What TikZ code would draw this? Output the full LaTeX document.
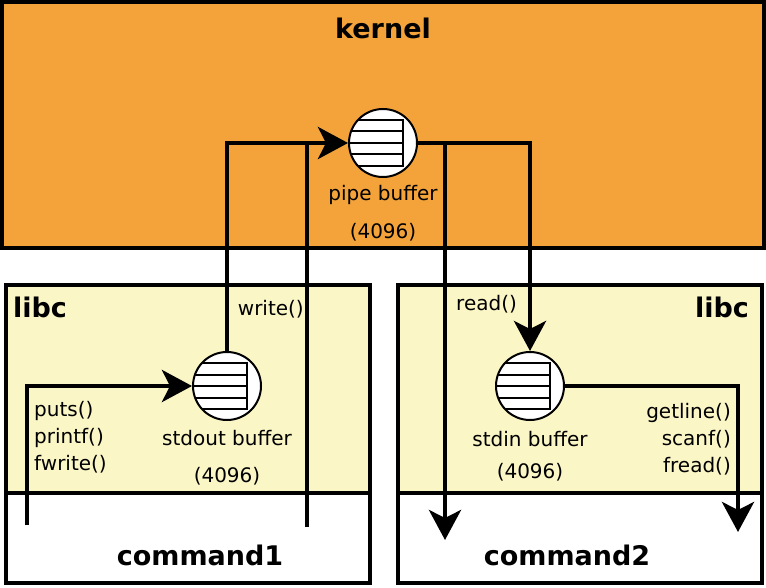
\documentclass[tikz,border=0pt]{standalone}
\usepackage{fontspec}
\setmainfont{DejaVu Sans}
\usetikzlibrary{arrows.meta, positioning}

\definecolor{kernelorange}{RGB}{243,163,58}
\definecolor{libcyellow}{RGB}{251,246,198}

\begin{document}
\begin{tikzpicture} [x=1pt, y=-1pt,
        box/.style = {draw, line width=4.5pt},
        title/.style = {font=\fontsize{27}{30}\selectfont\bfseries},
        lbl/.style = {font=\fontsize{20}{27}\selectfont, inner sep=0pt},
        conn/.style = {line width=4.5pt},
        arr/.style = {-{Stealth[length=30pt, width=32pt, inset=8pt]}},
        buffer/.style = {circle, draw, fill=white, line width=2pt,
            minimum size=68pt, inner sep=0pt,
            path picture={
                \begin{scope}[shift={(path picture bounding box.center)}]
                    \foreach \dy in {-23,-11.5,0,11.5,23}
                        \draw [line width=2pt] (-40,\dy) -- (20,\dy);
                    \draw [line width=2pt] (20,-24) -- (20,24);
                \end{scope}}}]
    \useasboundingbox (0,0) rectangle (766,588);

    % kernel
    \draw [box, fill=kernelorange] (2,2) rectangle (764,248);
    \node (kernel) [title] at (383,28) {kernel};

    % command1 / libc
    \fill [libcyellow] (6,285) rectangle (370,493);
    \draw [box] (6,285) rectangle (370,583);
    \draw [box] (6,493) -- (370,493);
    \node (libc1) [title] at (40,307) {libc};
    \node (cmd1) [title] at (200,555) {command1};

    % command2 / libc
    \fill [libcyellow] (398,285) rectangle (762,493);
    \draw [box] (398,285) rectangle (762,583);
    \draw [box] (398,493) -- (762,493);
    \node (libc2) [title] at (722,307) {libc};
    \node (cmd2) [title] at (567,555) {command2};

    % buffers
    \node (pipe) [buffer] at (383,143) {};
    \node (stdout) [buffer] at (227,386) {};
    \node (stdin) [buffer] at (530,386) {};

    \node (pipelbl) [lbl] at (383,195) {pipe buffer};
    \node (pipesz) [lbl] at (383,232) {(4096)};
    \node (stdoutlbl) [lbl] at (227,438) {stdout buffer};
    \node (stdoutsz) [lbl] at (227,476) {(4096)};
    \node (stdinlbl) [lbl] at (530,439) {stdin buffer};
    \node (stdinsz) [lbl] at (530,472) {(4096)};

    \node (writelbl) [lbl, anchor=east] at (304,309) {write()};
    \node (readlbl) [lbl, anchor=west] at (456,304) {read()};
    \node (putslbl) [lbl, anchor=west, align=left] at (34,437)
        {puts()\\printf()\\fwrite()};
    \node (getslbl) [lbl, anchor=east, align=right] at (731,439)
        {getline()\\scanf()\\fread()};

    % connectors
    \coordinate (c1out) at (27,525);
    \coordinate (wtop) at (307,143);
    \coordinate (wbot) at (307,527);
    \coordinate (rtop) at (445,143);
    \coordinate (rbot) at (445,540);
    \coordinate (c2in) at (738,532);

    \draw [conn, arr] (c1out) |- (stdout.west);
    \draw [conn, arr] (stdout.north) |- (pipe.west);
    \draw [conn] (wbot) -- (wtop);
    \draw [conn, arr] (pipe.east) -| (stdin.north);
    \draw [conn, arr] (rtop) -- (rbot);
    \draw [conn, arr] (stdin.east) -| (c2in);
\end{tikzpicture}
\end{document}
